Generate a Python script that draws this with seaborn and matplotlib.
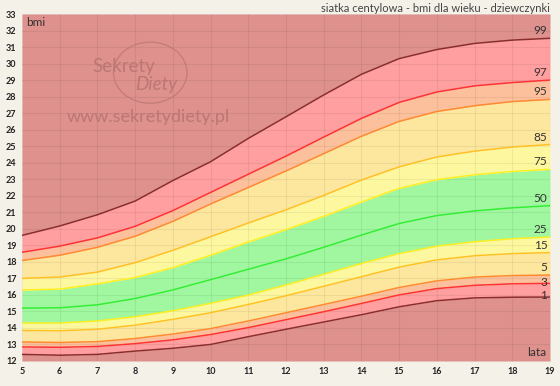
import pandas as pd
import matplotlib.pyplot as plt
import seaborn as sns
import numpy as np
from matplotlib.patches import Ellipse

# age in years and BMI percentile values
ages = [5, 6, 7, 8, 9, 10, 11, 12, 13, 14, 15, 16, 17, 18, 19]
p1 = [12.40, 12.35, 12.40, 12.60, 12.77, 13.00, 13.47, 13.92, 14.36, 14.80, 15.28, 15.65, 15.82, 15.86, 15.87]
p3 = [12.85, 12.83, 12.88, 13.05, 13.28, 13.60, 14.02, 14.50, 14.98, 15.48, 16.00, 16.38, 16.58, 16.67, 16.70]
p5 = [13.15, 13.12, 13.17, 13.36, 13.63, 13.96, 14.42, 14.92, 15.42, 15.92, 16.45, 16.85, 17.08, 17.17, 17.20]
p15 = [13.85, 13.83, 13.92, 14.17, 14.52, 14.92, 15.42, 15.95, 16.52, 17.10, 17.68, 18.12, 18.37, 18.50, 18.56]
p25 = [14.30, 14.30, 14.42, 14.68, 15.04, 15.49, 15.99, 16.60, 17.25, 17.90, 18.50, 18.95, 19.22, 19.40, 19.50]
p50 = [15.20, 15.22, 15.40, 15.78, 16.30, 16.92, 17.55, 18.18, 18.88, 19.62, 20.32, 20.80, 21.08, 21.27, 21.40]
p75 = [16.30, 16.35, 16.67, 17.05, 17.65, 18.40, 19.20, 19.95, 20.75, 21.62, 22.45, 22.97, 23.27, 23.47, 23.60]
p85 = [17.00, 17.08, 17.38, 17.95, 18.70, 19.52, 20.35, 21.15, 22.02, 22.95, 23.75, 24.35, 24.70, 24.95, 25.10]
p95 = [18.08, 18.40, 18.88, 19.55, 20.45, 21.50, 22.50, 23.50, 24.55, 25.60, 26.50, 27.10, 27.45, 27.70, 27.83]
p97 = [18.58, 18.95, 19.45, 20.15, 21.10, 22.20, 23.30, 24.40, 25.55, 26.68, 27.65, 28.28, 28.65, 28.85, 29.00]
p99 = [19.60, 20.17, 20.85, 21.68, 22.92, 24.06, 25.47, 26.78, 28.10, 29.35, 30.30, 30.85, 31.22, 31.42, 31.53]

percentiles = ['1', '3', '5', '15', '25', '50', '75', '85', '95', '97', '99']
series = [p1, p3, p5, p15, p25, p50, p75, p85, p95, p97, p99]

line_colors = ['#8b2e2e', '#ff3333', '#ff8a30', '#ffc125', '#ffee22', '#33ee33',
               '#ffee22', '#ffc125', '#ff8a30', '#ff3333', '#8b2e2e']
# band colours from bottom (below p1) to top (above p99)
band_colors = ['#de918d', '#ff9f9f', '#fcc19c', '#fde79e', '#fdf8a0', '#a0f7a0',
               '#a0f7a0', '#fdf8a0', '#fde79e', '#fcc19c', '#ff9f9f', '#de918d']

df = pd.DataFrame({
    'age': np.tile(ages, len(series)),
    'bmi': np.concatenate(series),
    'pct': np.repeat(percentiles, len(ages)),
})

sns.set_style('white')
plt.rcParams['font.family'] = ['Lato', 'DejaVu Sans']

fig = plt.figure(figsize=(5.6, 3.86), dpi=100, facecolor='#f4f1e8')
ax = fig.add_axes([22 / 560, 1 - 361 / 386, 528 / 560, 347 / 386])

ymin, ymax = 12, 33
bounds = [np.full(len(ages), ymin)] + [np.array(s) for s in series] + [np.full(len(ages), ymax)]
for lo, hi, c in zip(bounds[:-1], bounds[1:], band_colors):
    ax.fill_between(ages, lo, hi, color=c, lw=0, zorder=1)

sns.lineplot(data=df, x='age', y='bmi', hue='pct', palette=dict(zip(percentiles, line_colors)),
             hue_order=percentiles, lw=1.1, legend=False, ax=ax, zorder=3)

ax.set_xlim(5, 19)
ax.set_ylim(ymin, ymax)
ax.set_xticks(range(5, 20))
ax.set_yticks(range(12, 34))
ax.tick_params(length=0, labelsize=6.5, colors='#222222', pad=4)
for lbl in ax.get_xticklabels() + ax.get_yticklabels():
    lbl.set_fontweight('bold')
ax.grid(True, color='#000000', alpha=0.06, lw=0.8)
ax.set_axisbelow(False)
for s in ax.spines.values():
    s.set_visible(False)
ax.set_xlabel('')
ax.set_ylabel('')

# percentile labels at the right edge
offsets = {'1': 0.1, '3': 0.05}
for name, s in zip(percentiles, series):
    ax.text(18.93, s[-1] + offsets.get(name, 0.45), name, ha='right', va='center',
            fontsize=8.5, color='#333333', zorder=5)

ax.text(5.12, 32.5, 'bmi', fontsize=8.5, color='#333333', va='center')
ax.text(18.9, 12.5, 'lata', fontsize=8.5, color='#333333', ha='right', va='center')

# watermark
wm = '#bb7774'
ax.text(8.35, 26.75, 'www.sekretydiety.pl', fontsize=13, color=wm, ha='center', va='center', zorder=4)
ax.text(7.7, 29.85, 'Sekrety', fontsize=13.5, color=wm, ha='center', va='center', zorder=4)
ax.text(8.55, 28.75, 'Diety', fontsize=13.5, color=wm, ha='center', va='center', style='italic', zorder=4)
ax.add_patch(Ellipse((8.4, 29.45), 1.95, 3.7, fill=False, ec=wm, lw=0.9, alpha=0.8, zorder=4))

fig.text(550 / 560, 1 - 8 / 386, 'siatka centylowa - bmi dla wieku - dziewczynki',
         ha='right', va='center', fontsize=8, color='#444444')

plt.savefig('out.png', dpi=100, facecolor=fig.get_facecolor())
